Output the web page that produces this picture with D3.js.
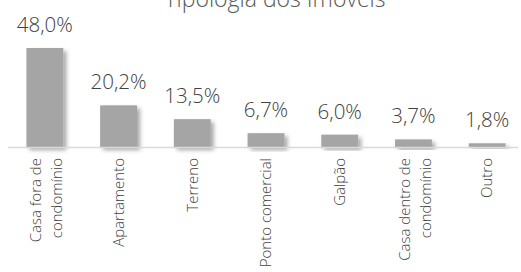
<!DOCTYPE html>
<html lang="pt">
<head>
  <meta charset="UTF-8" />
  <title>Tipologia dos Imóveis</title>
  <script src="https://d3js.org/d3.v7.min.js"></script>
  <style>
    * { margin: 0; padding: 0; }
    body { background: #fff; font-family: 'Open Sans', sans-serif; }
    svg { display: block; }
    text { font-weight: 300; }
  </style>
</head>
<body>
  <svg id="chart" width="521" height="272"></svg>
  <script>
    const categories = [
      ['Casa fora de', 'condomínio'],
      ['Apartamento'],
      ['Terreno'],
      ['Ponto comercial'],
      ['Galpão'],
      ['Casa dentro de', 'condomínio'],
      ['Outro']
    ];
    const values = [48.0, 20.2, 13.5, 6.7, 6.0, 3.7, 1.8];
    const title = 'Tipologia dos Imóveis';

    const svg = d3.select('#chart');
    const baseY = 147;

    const x = d3.scaleBand()
      .domain(d3.range(values.length))
      .range([8, 524])
      .paddingInner(0.5)
      .paddingOuter(0.25);

    const y = d3.scaleLinear().domain([0, 48]).range([baseY, 48]);

    const fmt = v => d3.format('.1f')(v).replace('.', ',') + '%';

    const defs = svg.append('defs');
    const f = defs.append('filter').attr('id', 'shadow')
      .attr('x', '-20%').attr('y', '-20%').attr('width', '150%').attr('height', '150%');
    f.append('feDropShadow')
      .attr('dx', 3).attr('dy', 3).attr('stdDeviation', 2.2)
      .attr('flood-color', '#000').attr('flood-opacity', 0.35);

    // title (cut at the top in the original)
    svg.append('text')
      .attr('x', 275).attr('y', 7)
      .attr('text-anchor', 'middle')
      .attr('font-size', 23)
      .attr('fill', '#595959')
      .text(title);

    // bars
    svg.selectAll('rect.bar').data(values).enter().append('rect')
      .attr('class', 'bar')
      .attr('x', (d, i) => x(i))
      .attr('y', d => y(d))
      .attr('width', x.bandwidth())
      .attr('height', d => baseY - y(d))
      .attr('fill', '#a5a5a5')
      .attr('filter', 'url(#shadow)');

    // axis line
    svg.append('line')
      .attr('x1', 8).attr('x2', 518)
      .attr('y1', baseY + 0.5).attr('y2', baseY + 0.5)
      .attr('stroke', '#d9d9d9').attr('stroke-width', 1.5);

    // value labels
    svg.selectAll('text.val').data(values).enter().append('text')
      .attr('class', 'val')
      .attr('x', (d, i) => x(i) + x.bandwidth() / 2)
      .attr('y', d => y(d) - 16)
      .attr('text-anchor', 'middle')
      .attr('font-size', 20.5)
      .attr('fill', '#404040')
      .text(d => fmt(d));

    // category labels, rotated
    const lab = svg.selectAll('g.cat').data(categories).enter().append('g')
      .attr('class', 'cat')
      .attr('transform', (d, i) => `translate(${x(i) + x.bandwidth() / 2},158) rotate(-90)`);

    lab.each(function (lines) {
      const g = d3.select(this);
      const lh = 21;
      const off = -(lines.length - 1) * lh / 2 + (lines.length - 1) * 1.5;
      lines.forEach((t, k) => {
        g.append('text')
          .attr('x', 0)
          .attr('y', off + k * lh)
          .attr('dy', '0.35em')
          .attr('text-anchor', 'end')
          .attr('font-size', 15)
          .attr('fill', '#404040')
          .text(t);
      });
    });
  </script>
</body>
</html>
